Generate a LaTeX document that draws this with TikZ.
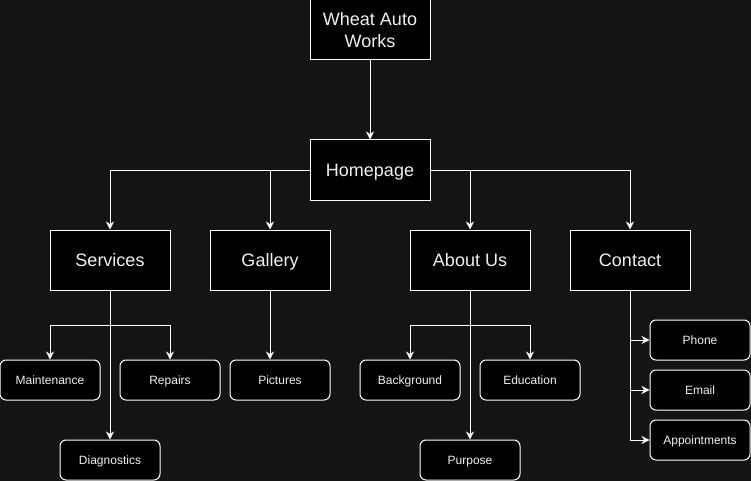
\documentclass[tikz,border=0pt]{standalone}
\usepackage{fontspec}
\setmainfont{Liberation Sans}
\usetikzlibrary{arrows.meta}
\definecolor{canvas}{HTML}{141414}
\definecolor{ink}{HTML}{F0F0F0}
\begin{document}
\begin{tikzpicture}[x=1pt,y=-1pt,
  boxbase/.style={draw=white, fill=black, line width=1pt, minimum width=120pt, minimum height=60pt,
    inner sep=0pt, text=ink, align=center, font=\fontsize{18}{21.6}\selectfont},
  bigbox/.style={boxbase, text height=16.3pt, text depth=3.9pt},
  leafbox/.style={draw=white, fill=black, line width=1pt, rounded corners=6pt, minimum width=100pt,
    minimum height=40pt, inner sep=0pt, text=ink, font=\fontsize{12}{14.4}\selectfont,
    text height=10.9pt, text depth=2.6pt},
  link/.style={draw=white, line width=1pt, -{Stealth[length=8pt,width=8pt,inset=2.5pt]}}]
  % canvas
  \fill[canvas] (0,0) rectangle (751,481);
  \useasboundingbox (0,0) rectangle (751,481);

  % top levels
  \node[boxbase] (wheat) at (370,30) {Wheat Auto\\Works};
  \node[bigbox] (home) at (370,170) {Homepage};

  % sections
  \node[bigbox] (serv) at (110,260) {Services};
  \node[bigbox] (gal)  at (270,260) {Gallery};
  \node[bigbox] (about) at (470,260) {About Us};
  \node[bigbox] (cont) at (630,260) {Contact};

  % pages
  \node[leafbox] (maint) at (50,380) {Maintenance};
  \node[leafbox] (rep)   at (170,380) {Repairs};
  \node[leafbox] (diag)  at (110,460) {Diagnostics};
  \node[leafbox] (pic)   at (280,380) {Pictures};
  \node[leafbox] (back)  at (410,380) {Background};
  \node[leafbox] (edu)   at (530,380) {Education};
  \node[leafbox] (purp)  at (470,460) {Purpose};
  \node[leafbox] (phone) at (700,340) {Phone};
  \node[leafbox] (email) at (700,390) {Email};
  \node[leafbox] (appt)  at (700,440) {Appointments};

  % connectors
  \draw[link] (wheat.south) -- (home.north);
  \draw[link] (home.west) -| (serv.north);
  \draw[link] (home.west) -| (gal.north);
  \draw[link] (home.east) -| (about.north);
  \draw[link] (home.east) -| (cont.north);

  \draw[link] (serv.south) -- ++(0,35) -| (maint.north);
  \draw[link] (serv.south) -- ++(0,35) -| (rep.north);
  \draw[link] (serv.south) -- (diag.north);

  \draw[link] (gal.south) -- (gal.south |- pic.north);

  \draw[link] (about.south) -- ++(0,35) -| (back.north);
  \draw[link] (about.south) -- ++(0,35) -| (edu.north);
  \draw[link] (about.south) -- (purp.north);

  \draw[link] (cont.south) |- (phone.west);
  \draw[link] (cont.south) |- (email.west);
  \draw[link] (cont.south) |- (appt.west);
\end{tikzpicture}
\end{document}
